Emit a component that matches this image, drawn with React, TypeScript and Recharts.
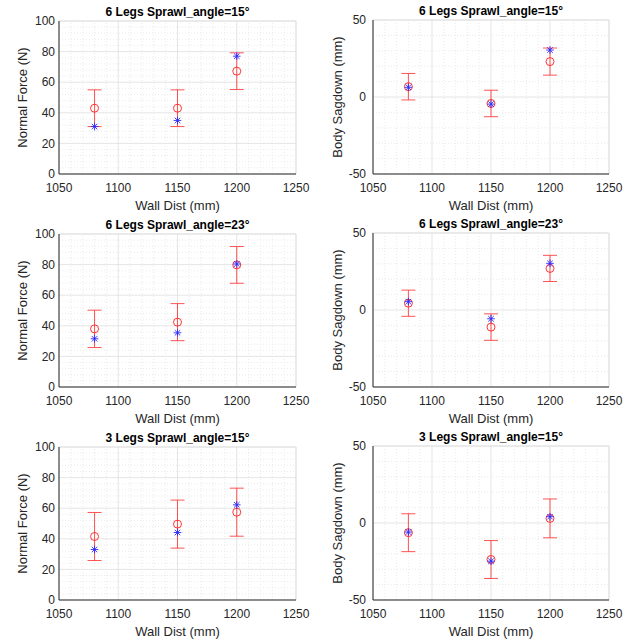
import React from "react";
import { CartesianGrid, ErrorBar, ReferenceLine, Scatter, ScatterChart, XAxis, YAxis } from "recharts";

// wall distance (mm) for every panel
const wallDist = [1080, 1150, 1200];

// 6 legs, sprawl 15°
const force6s15Mean = [43, 43, 67.2];
const force6s15Err = [12, 12, 12];
const force6s15Meas = [31, 35, 77];
const sag6s15Mean = [6.7, -4.2, 23];
const sag6s15Err = [8.6, 8.6, 8.8];
const sag6s15Meas = [6.3, -4.6, 30.5];

// 6 legs, sprawl 23°
const force6s23Mean = [38, 42.4, 79.8];
const force6s23Err = [12.2, 12.1, 12];
const force6s23Meas = [31.5, 35.4, 80.4];
const sag6s23Mean = [4.4, -11.1, 27];
const sag6s23Err = [8.5, 8.6, 8.5];
const sag6s23Meas = [5.4, -5.7, 30.3];

// 3 legs, sprawl 15°
const force3s15Mean = [41.5, 49.6, 57.4];
const force3s15Err = [15.7, 15.7, 15.7];
const force3s15Meas = [33, 44.1, 62.2];
const sag3s15Mean = [-6.3, -23.7, 3];
const sag3s15Err = [12.3, 12.3, 12.6];
const sag3s15Meas = [-5.9, -24.8, 4.1];

const xTicks = [1050, 1100, 1150, 1200, 1250];
const forceTicks = [0, 20, 40, 60, 80, 100];
const sagTicks = [-50, 0, 50];

const FONT = "'Liberation Sans', Arial, Helvetica, sans-serif";
const TEXT = "#262626";
const MAJOR = "#dedede";
const MINOR = "#e4e4e4";

function minorLines(lo: number, hi: number, step: number, major: number[]) {
  const out: number[] = [];
  for (let v = lo + step; v < hi; v += step) {
    if (!major.some((m) => Math.abs(m - v) < 1e-6)) out.push(v);
  }
  return out;
}

const RedCircle = (p: any) => (
  <circle cx={p.cx} cy={p.cy} r={4} fill="none" stroke="#ff2020" strokeWidth={0.9} />
);

const BlueStar = (p: any) => {
  const s = 3.8;
  const d = s * 0.72;
  const { cx, cy } = p;
  return (
    <g stroke="#2a2aff" strokeWidth={0.9}>
      <line x1={cx - s} y1={cy} x2={cx + s} y2={cy} />
      <line x1={cx} y1={cy - s} x2={cx} y2={cy + s} />
      <line x1={cx - d} y1={cy - d} x2={cx + d} y2={cy + d} />
      <line x1={cx - d} y1={cy + d} x2={cx + d} y2={cy - d} />
    </g>
  );
};

type PanelProps = {
  title: string;
  mean: number[];
  err: number[];
  meas: number[];
  kind: "force" | "sag";
  left: number;
  top: number;
};

function Panel({ title, mean, err, meas, kind, left, top }: PanelProps) {
  const isForce = kind === "force";
  const yDomain: [number, number] = isForce ? [0, 100] : [-50, 50];
  const yTicks = isForce ? forceTicks : sagTicks;
  const yMinor = isForce ? minorLines(0, 100, 4, forceTicks) : minorLines(-50, 50, 10, sagTicks);
  const xMinor = minorLines(1050, 1250, 10, xTicks);
  const axisW = isForce ? 59 : 51;
  const rightM = isForce ? 26 : 35;
  const topM = isForce ? 21 : 20;
  const plotW = 322 - axisW - rightM;

  const redData = wallDist.map((x, i) => ({ x, y: mean[i], e: err[i] }));
  const blueData = wallDist.map((x, i) => ({ x, y: meas[i] }));

  return (
    <div style={{ position: "absolute", left, top, width: 322, height: 214 }}>
      <div
        style={{
          position: "absolute",
          left: axisW,
          width: plotW,
          top: topM - 16,
          textAlign: "center",
          fontFamily: FONT,
          fontWeight: "bold",
          fontSize: 12,
          lineHeight: "14px",
          color: "#000",
          whiteSpace: "nowrap",
        }}
      >
        {title}
      </div>
      <ScatterChart width={322} height={214} margin={{ top: topM, right: rightM, bottom: 3, left: 0 }}>
        <CartesianGrid stroke={MAJOR} strokeWidth={0.8} />
        {xMinor.map((v) => (
          <ReferenceLine key={"x" + v} x={v} stroke={MINOR} strokeDasharray="1 2" strokeWidth={0.8} />
        ))}
        {yMinor.map((v) => (
          <ReferenceLine key={"y" + v} y={v} stroke={MINOR} strokeDasharray="1 2" strokeWidth={0.8} />
        ))}
        <ReferenceLine x={1250} stroke={MAJOR} strokeWidth={0.8} />
        <ReferenceLine y={yDomain[1]} stroke={MAJOR} strokeWidth={0.8} />
        <XAxis
          type="number"
          dataKey="x"
          domain={[1050, 1250]}
          ticks={xTicks}
          allowDataOverflow
          height={37}
          stroke={TEXT}
          tickLine={false}
          tickSize={5}
          tickMargin={4}
          tick={{ fill: TEXT, fontSize: 12, fontFamily: FONT }}
          label={{ value: "Wall Dist (mm)", position: "insideBottom", offset: 1, fill: TEXT, fontSize: 13, fontFamily: FONT }}
        />
        <YAxis
          type="number"
          dataKey="y"
          domain={yDomain}
          ticks={yTicks}
          allowDataOverflow
          width={axisW}
          stroke={TEXT}
          tickLine={false}
          tickSize={isForce ? 3 : 5}
          tickMargin={isForce ? 1 : 2}
          tick={{ fill: TEXT, fontSize: 12, fontFamily: FONT }}
          label={{
            value: isForce ? "Normal Force (N)" : "Body Sagdown (mm)",
            angle: -90,
            position: "insideLeft",
            offset: isForce ? 22 : 15,
            style: { textAnchor: "middle" },
            fill: TEXT,
            fontSize: 13,
            fontFamily: FONT,
          }}
        />
        <Scatter data={redData} shape={RedCircle} isAnimationActive={false}>
          <ErrorBar dataKey="e" direction="y" width={7} stroke="#ff4040" strokeWidth={0.9} isAnimationActive={false} />
        </Scatter>
        <Scatter data={blueData} shape={BlueStar} isAnimationActive={false} />
      </ScatterChart>
    </div>
  );
}

export default function App() {
  return (
    <div style={{ position: "absolute", left: 0, top: 0, width: 644, height: 642, background: "#fff" }}>
      <Panel title="6 Legs Sprawl_angle=15°" kind="force" mean={force6s15Mean} err={force6s15Err} meas={force6s15Meas} left={0} top={0} />
      <Panel title="6 Legs Sprawl_angle=15°" kind="sag" mean={sag6s15Mean} err={sag6s15Err} meas={sag6s15Meas} left={322} top={0} />
      <Panel title="6 Legs Sprawl_angle=23°" kind="force" mean={force6s23Mean} err={force6s23Err} meas={force6s23Meas} left={0} top={213} />
      <Panel title="6 Legs Sprawl_angle=23°" kind="sag" mean={sag6s23Mean} err={sag6s23Err} meas={sag6s23Meas} left={322} top={213} />
      <Panel title="3 Legs Sprawl_angle=15°" kind="force" mean={force3s15Mean} err={force3s15Err} meas={force3s15Meas} left={0} top={426} />
      <Panel title="3 Legs Sprawl_angle=15°" kind="sag" mean={sag3s15Mean} err={sag3s15Err} meas={sag3s15Meas} left={322} top={426} />
    </div>
  );
}
